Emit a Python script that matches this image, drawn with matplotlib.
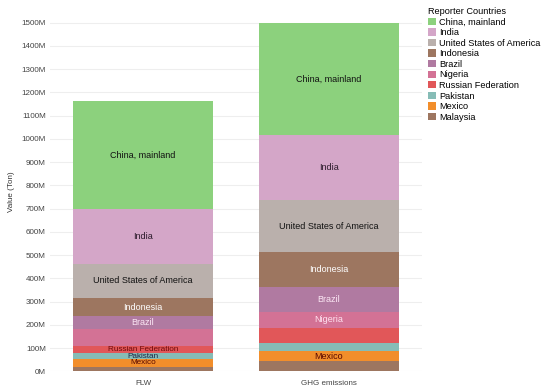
"""
Stacked bars: food loss & waste vs GHG emissions by reporter country
"""

import matplotlib.pyplot as plt
from matplotlib.patches import Patch
from matplotlib.ticker import FuncFormatter

plt.rcParams['font.family'] = ['Liberation Sans', 'DejaVu Sans']

# ----- data (million tonnes) -----
categories = ['FLW', 'GHG emissions']
countries = ['China, mainland', 'India', 'United States of America', 'Indonesia',
             'Brazil', 'Nigeria', 'Russian Federation', 'Pakistan', 'Mexico', 'Malaysia']
flw = [463, 235, 148, 76, 57, 72, 31, 26, 32, 21]
ghg = [482, 279, 226, 148, 107, 71, 64, 36, 43, 43]

# which segments carry a text label in each bar
flw_labels = ['China, mainland', 'India', 'United States of America', 'Indonesia',
              'Brazil', 'Russian Federation', 'Pakistan', 'Mexico']
ghg_labels = ['China, mainland', 'India', 'United States of America', 'Indonesia',
              'Brazil', 'Nigeria', 'Mexico']

colors = ['#8CD17D', '#D4A6C8', '#BAB0AC', '#9D7660', '#B07AA1',
          '#D37295', '#E15759', '#86BCB6', '#F28E2B', '#9D7660']
text_colors = ['#111111', '#2a1a2a', '#111111', '#ffffff', '#fbe6f4',
               '#ffe2f0', '#6e0a0a', '#1a2446', '#5a0800', '#ffffff']

fig = plt.figure(figsize=(5.5, 3.91), dpi=100)
ax = fig.add_axes([0.091, 0.05, 0.676, 0.919])

series = [flw, ghg]
shown = [flw_labels, ghg_labels]

for i, (vals, labs) in enumerate(zip(series, shown)):
    bottom = 0
    # stack from the last country (bottom) up to the first (top)
    for j in reversed(range(len(countries))):
        v = vals[j] * 1e6
        ax.bar(i, v, bottom=bottom, width=0.753, color=colors[j], linewidth=0)
        if countries[j] in labs:
            # the thin bottom segments get a slightly smaller label
            fs = 6.5 if vals[j] > 40 else 5.9
            ax.text(i, bottom + v / 2, countries[j], ha='center', va='center',
                    fontsize=fs, color=text_colors[j])
        bottom += v

ax.set_xlim(-0.5, 1.5)
ax.set_ylim(0, 1545e6)
ax.set_yticks([k * 100e6 for k in range(16)])
ax.yaxis.set_major_formatter(FuncFormatter(lambda v, p: f'{int(round(v / 1e6))}M'))
ax.set_xticks(range(len(categories)))
ax.set_xticklabels(categories)
ax.tick_params(axis='y', length=0, labelsize=5.8, colors='#444444', pad=3)
ax.tick_params(axis='x', length=0, labelsize=5.8, colors='#444444', pad=6)
ax.grid(axis='y', color='#eeeeee', linewidth=0.8)
ax.set_axisbelow(True)
for s in ax.spines.values():
    s.set_visible(False)
ax.set_ylabel('Value (Ton)', fontsize=5.8, color='#333333', labelpad=5)

handles = [Patch(facecolor=c, edgecolor='none') for c in colors]
leg = fig.legend(handles, countries, loc='upper left', bbox_to_anchor=(0.778, 0.982),
                 frameon=False, fontsize=6.6, title='Reporter Countries', title_fontsize=6.6,
                 handlelength=0.85, handleheight=0.85, handletextpad=0.35,
                 labelspacing=0.17, borderpad=0, borderaxespad=0)
leg._legend_box.align = 'left'

fig.savefig('out.png', dpi=100)
